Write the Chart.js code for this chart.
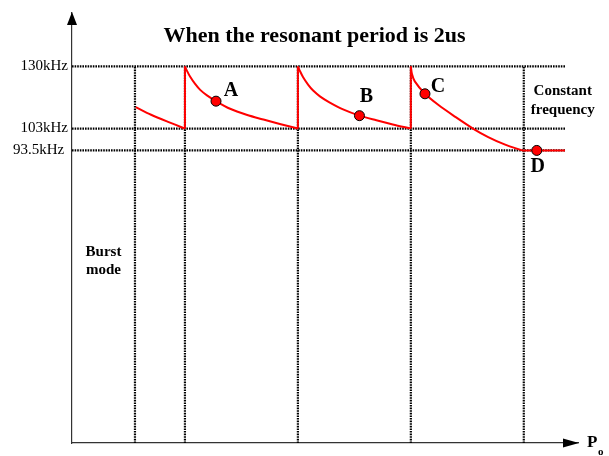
<!DOCTYPE html>
<html>
<head>
<meta charset="utf-8">
<script src="https://cdn.jsdelivr.net/npm/chart.js@4.4.1/dist/chart.umd.min.js"></script>
<style>
body{margin:0;background:#fff;}
#caja{width:609px;height:456px;}
</style>
</head>
<body>
<div id="caja"><canvas id="grafico"></canvas></div>
<script>

// ================================
// DATOS
// ================================

const seg1X = [1.13, 1.4, 1.7, 2.0];
const seg1Y = [112.3, 109.0, 105.9, 103];

const seg2X = [2.0, 2.03, 2.09, 2.18, 2.27, 2.39, 2.55, 2.80, 3.09, 3.39, 3.68, 4.0];
const seg2Y = [130, 128.4, 125.6, 122.4, 119.8, 117.4, 114.9, 111.6, 109.0, 106.9, 105.0, 103];

const seg3X = [4.0, 4.03, 4.09, 4.18, 4.27, 4.39, 4.55, 4.80, 5.09, 5.39, 5.68, 6.0];
const seg3Y = [130, 128.3, 125.4, 122.1, 119.5, 117.0, 114.5, 111.3, 108.6, 106.6, 104.8, 103];

const seg4X = [6.0, 6.02, 6.07, 6.25, 6.49, 6.78, 7.10, 7.37, 7.67, 7.97];
const seg4Y = [130, 126.7, 123.5, 118.1, 113.2, 108.2, 103.0, 99.3, 96.0, 93.5];

// tramo de frecuencia constante
const flatX = [7.97, 8.73];
const flatY = [93.5, 93.5];

// saltos verticales de la frecuencia
const jumpX = [2, 4, 6];
const jumpFrom = 103;
const jumpTo = 130;

// puntos marcados
const pointNames = ["A", "B", "C", "D"];
const pointX = [2.55, 5.09, 6.25, 8.23];
const pointY = [114.9, 108.6, 118.1, 93.5];

// líneas de referencia punteadas
const refY = [130, 103, 93.5];
const refLineEnd = 8.73;
const refX = [1.115, 2, 4, 6, 8];

// ticks del eje y
const yTickValues = [130, 103, 93.5];
const yTickLabels = ["130kHz", "103kHz", "93.5kHz "];

const titleText = "When the resonant period is 2us";

const xMin = 0, xMax = 8.96;
const yMin = -33.6, yMax = 153.2;

// ================================
// DATASETS
// ================================

function toPoints(xs, ys){
    return xs.map((x, i) => ({x: x, y: ys[i]}));
}

const rojo = "#ff0000";
const datasets = [];

datasets.push({
    data: toPoints(pointX, pointY),
    showLine: false,
    pointRadius: 5,
    pointBackgroundColor: rojo,
    pointBorderColor: "#000",
    pointBorderWidth: 1
});

[[seg1X, seg1Y], [seg2X, seg2Y], [seg3X, seg3Y], [seg4X, seg4Y], [flatX, flatY]]
.forEach(seg => {
    datasets.push({
        data: toPoints(seg[0], seg[1]),
        borderColor: rojo,
        borderWidth: 2,
        pointRadius: 0,
        tension: 0.3
    });
});

jumpX.forEach(x => {
    datasets.push({
        data: [{x: x, y: jumpFrom}, {x: x, y: jumpTo}],
        borderColor: rojo,
        borderWidth: 2,
        pointRadius: 0
    });
});

refY.forEach(y => {
    datasets.push({
        data: [{x: xMin, y: y}, {x: refLineEnd, y: y}],
        borderColor: "#000",
        borderWidth: 2.2,
        borderDash: [1.6, 1],
        pointRadius: 0
    });
});

refX.forEach(x => {
    datasets.push({
        data: [{x: x, y: yMin}, {x: x, y: refY[0]}],
        borderColor: "#000",
        borderWidth: 2.2,
        borderDash: [1.6, 1],
        pointRadius: 0
    });
});

// ================================
// TEXTOS Y FLECHAS
// ================================

const serif = "'Liberation Serif', 'Times New Roman', serif";

const labelOffsets = [[15, -10], [7, -19], [13, -7], [1, 16]];

const notes = [
    {lines: ["Constant", "frequency"], x: 8.69, y: 119.1, lineGap: 19},
    {lines: ["Burst", "mode"], x: 0.558, y: 49.4, lineGap: 18.5}
];

const textos = {
    id: "textos",
    afterDatasetsDraw(chart){
        const c = chart.ctx;
        const xs = chart.scales.x;
        const ys = chart.scales.y;
        const area = chart.chartArea;

        c.save();
        c.fillStyle = "#000";
        c.textAlign = "center";

        c.textBaseline = "alphabetic";
        c.font = "bold 22px " + serif;
        c.fillText(titleText, 314.5, 42);

        c.textBaseline = "middle";
        c.font = "bold 20px " + serif;
        pointNames.forEach((n, i) => {
            c.fillText(
                n,
                xs.getPixelForValue(pointX[i]) + labelOffsets[i][0],
                ys.getPixelForValue(pointY[i]) + labelOffsets[i][1]
            );
        });

        c.font = "bold 15px " + serif;
        notes.forEach(nota => {
            const px = xs.getPixelForValue(nota.x);
            const py = ys.getPixelForValue(nota.y);
            nota.lines.forEach((t, k) => {
                c.fillText(t, px, py + k * nota.lineGap);
            });
        });

        // flechas de los ejes
        c.beginPath();
        c.moveTo(area.left, area.top - 1);
        c.lineTo(area.left - 5, area.top + 12);
        c.lineTo(area.left + 5, area.top + 12);
        c.closePath();
        c.fill();

        c.beginPath();
        c.moveTo(area.right + 1, area.bottom);
        c.lineTo(area.right - 15, area.bottom - 4.5);
        c.lineTo(area.right - 15, area.bottom + 4.5);
        c.closePath();
        c.fill();

        // P con subíndice o
        c.textAlign = "left";
        c.font = "bold 17px " + serif;
        c.fillText("P", area.right + 9, area.bottom);
        c.font = "bold 11px " + serif;
        c.fillText("o", area.right + 20, area.bottom + 9);

        c.restore();
    }
};

// ================================
// GRÁFICO
// ================================

const ctx = document.getElementById("grafico");

const grafico = new Chart(ctx, {
    type: "line",
    data: { datasets: datasets },
    options: {
        responsive: true,
        maintainAspectRatio: false,
        animation: false,
        layout: { padding: { left: 0, top: 12, right: 31, bottom: 0 } },
        plugins: {
            legend: { display: false },
            tooltip: { enabled: false },
            title: { display: false }
        },
        scales: {
            x: {
                type: "linear",
                min: xMin,
                max: xMax,
                grid: { display: false, drawTicks: false },
                border: { display: true, color: "#333", width: 1.2 },
                ticks: { display: false },
                afterFit(scale){ scale.height = 11; }
            },
            y: {
                type: "linear",
                min: yMin,
                max: yMax,
                grid: { display: false, drawTicks: false },
                border: { display: true, color: "#333", width: 1.2 },
                afterBuildTicks(scale){
                    scale.ticks = yTickValues.map(v => ({value: v}));
                },
                ticks: {
                    autoSkip: false,
                    padding: 4,
                    color: "#000",
                    font: { family: serif, size: 15 },
                    callback: (value, index) => yTickLabels[index]
                },
                afterFit(scale){ scale.width = 72; }
            }
        }
    },
    plugins: [textos]
});

</script>
</body>
</html>
